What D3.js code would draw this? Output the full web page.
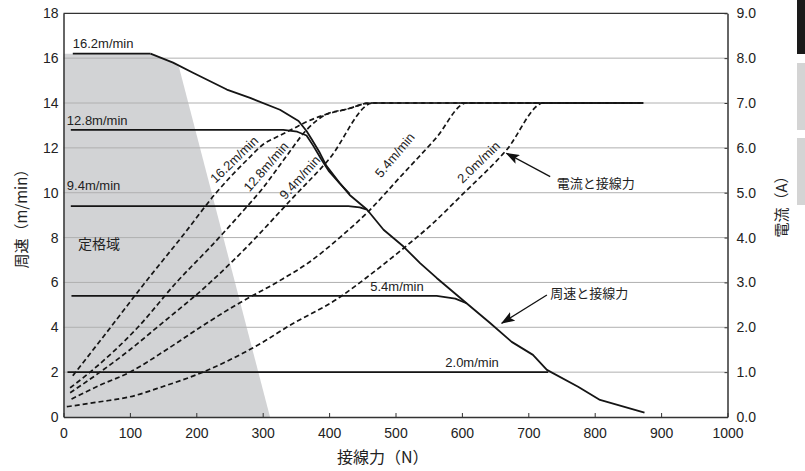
<!DOCTYPE html>
<html>
<head>
<meta charset="utf-8">
<script src="https://cdn.jsdelivr.net/npm/d3@7"></script>
<style>
  body { margin: 0; background: #fff; }
  svg { display: block; }
  text { font-family: 'Liberation Sans', Arial, 'Noto Sans CJK JP', sans-serif; fill: #222; }
  .jp { font-family: 'Noto Sans CJK JP', sans-serif; }
</style>
</head>
<body>
<svg id="chart" width="805" height="471"></svg>
<script>
'use strict';

// axis ticks
const forceTicks = [0, 100, 200, 300, 400, 500, 600, 700, 800, 900, 1000];
const speedTicks = [0, 2, 4, 6, 8, 10, 12, 14, 16, 18];
const currentTicks = [0, 1, 2, 3, 4, 5, 6, 7, 8, 9];

// rated region (shaded), [force N, speed m/min]
const ratedRegion = [[0, 0], [0, 16.2], [131, 16.2], [165, 15.8], [174, 15.6], [311, 0]];

// speed vs tangential force, [force N, speed m/min]
const speedEnvelope = [[131, 16.2], [165, 15.8], [195, 15.35], [246, 14.6], [281, 14.23], [326, 13.7],
  [354, 13.2], [366, 12.75], [374, 12.37], [386, 11.78], [396, 11.2], [416, 10.43], [431, 9.9],
  [457, 9.25], [482, 8.35], [512, 7.6], [537, 6.86], [562, 6.2], [607, 5.07], [642, 4.2],
  [675, 3.35], [707, 2.77], [728, 2.1], [775, 1.35], [808, 0.76], [875, 0.2]];
const speed162 = [[14, 16.2], [131, 16.2]];
const speed128 = [[11, 12.8], [331, 12.8], [352, 12.72], [366, 12.55], [376, 12.1], [388, 11.5],
  [400, 10.95], [415, 10.45], [431, 9.95]];
const speed94 = [[11, 9.4], [429, 9.4], [446, 9.35], [457, 9.25]];
const speed54 = [[12, 5.4], [562, 5.4], [590, 5.28], [607, 5.07]];
const speed20 = [[6, 2.0], [730, 2.0]];

// current vs tangential force, [force N, current A]
const current162 = [[14, 0.92], [60, 1.79], [123, 3.0], [180, 4.05], [230, 5.0], [281, 5.8],
  [300, 6.07], [321, 6.24], [345, 6.42], [366, 6.58], [396, 6.75], [426, 6.86], [462, 7.0], [873, 7.0]];
const current128 = [[10, 0.65], [40, 1.0], [112, 2.0], [170, 3.0], [225, 3.85], [266, 4.52], [300, 5.1],
  [335, 5.8], [366, 6.4], [396, 6.75], [426, 6.86], [462, 7.0], [873, 7.0]];
const current94 = [[10, 0.54], [55, 1.0], [100, 1.5], [141, 2.0], [221, 3.0], [280, 3.85], [343, 4.85],
  [400, 5.75], [466, 7.0], [873, 7.0]];
const current54 = [[12, 0.4], [55, 0.71], [100, 1.0], [155, 1.5], [206, 2.0], [260, 2.5], [321, 3.0],
  [370, 3.45], [416, 4.0], [457, 4.55], [507, 5.35], [560, 6.2], [607, 7.0], [873, 7.0]];
const current20 = [[5, 0.23], [55, 0.34], [100, 0.45], [150, 0.68], [210, 1.0], [270, 1.42], [306, 1.72],
  [336, 2.0], [414, 2.65], [460, 3.15], [507, 3.7], [555, 4.3], [600, 4.95], [667, 5.95], [723, 7.0], [873, 7.0]];

// speed labels: horizontal ones [force, speed], rotated ones beside the current curves [force, current]
const speedNames = ['16.2m/min', '12.8m/min', '9.4m/min', '5.4m/min', '2.0m/min'];
const speedLabelPos = [[14, 16.44], [5, 13.02], [5, 10.12], [462, 5.62], [575, 2.23]];
const currentLabelPos = [[257, 5.74], [305, 5.58], [356, 5.34], [499, 5.84], [625, 5.68]];
const currentLabelTilt = [-44, -49, -48, -50, -44];

// callouts, in speed units: text start, arrow tail, arrow tip
const callouts = [
  { text: '電流と接線力', at: [743, 10.44], from: [733, 10.72], to: [667, 11.76] },
  { text: '周速と接線力', at: [733, 5.53], from: [728, 5.44], to: [660, 4.18] },
];

const svg = d3.select('#chart');
const x = d3.scaleLinear().domain([0, 1000]).range([63.5, 727.5]);
const yS = d3.scaleLinear().domain([0, 18]).range([417, 13.3]);
const yA = d3.scaleLinear().domain([0, 9]).range([417, 13.3]);

const lineS = d3.line().x(d => x(d[0])).y(d => yS(d[1]));
const lineA = d3.line().x(d => x(d[0])).y(d => yA(d[1])).curve(d3.curveMonotoneX);

// arrow head
svg.append('defs').append('marker')
  .attr('id', 'head')
  .attr('viewBox', '0 -5 14 10')
  .attr('refX', 13).attr('refY', 0)
  .attr('markerWidth', 14).attr('markerHeight', 10)
  .attr('markerUnits', 'userSpaceOnUse')
  .attr('orient', 'auto')
  .append('path')
  .attr('d', 'M0,-5 L14,0 L0,5 L3,0 Z')
  .attr('fill', '#111');

// shaded rated region
svg.append('path')
  .attr('d', lineS(ratedRegion) + 'Z')
  .attr('fill', '#d2d3d5');

// grid
svg.append('g')
  .selectAll('line')
  .data(speedTicks.filter(d => d > 0 && d < 18))
  .join('line')
  .attr('x1', x(0)).attr('x2', x(1000))
  .attr('y1', d => yS(d)).attr('y2', d => yS(d))
  .attr('stroke', '#b0b0b0')
  .attr('stroke-width', 1);

// current curves (dashed)
svg.append('g')
  .selectAll('path')
  .data([current162, current128, current94, current54, current20])
  .join('path')
  .attr('d', d => lineA(d))
  .attr('fill', 'none')
  .attr('stroke', '#151515')
  .attr('stroke-width', 1.7)
  .attr('stroke-dasharray', '5,3');

// speed curves (solid)
svg.append('g')
  .selectAll('path')
  .data([speedEnvelope, speed162, speed128, speed94, speed54, speed20])
  .join('path')
  .attr('d', d => lineS(d))
  .attr('fill', 'none')
  .attr('stroke', '#151515')
  .attr('stroke-width', 1.8)
  .attr('stroke-linejoin', 'round');

// axes
const axisFont = g => g.selectAll('text').attr('font-size', 14).style('fill', '#222');
const axisLine = g => g.select('.domain').attr('stroke', '#333').attr('stroke-width', 1.5);

svg.append('g')
  .attr('transform', `translate(0,${yS(0)})`)
  .call(d3.axisBottom(x).tickValues(forceTicks).tickFormat(d3.format('d'))
    .tickSizeInner(-4).tickSizeOuter(0).tickPadding(11))
  .call(axisFont).call(axisLine)
  .call(g => g.selectAll('.tick line').attr('stroke', '#333'));

svg.append('g')
  .attr('transform', `translate(${x(0)},0)`)
  .call(d3.axisLeft(yS).tickValues(speedTicks).tickSize(0).tickPadding(5))
  .call(axisFont).call(axisLine);

svg.append('g')
  .attr('transform', `translate(${x(1000)},0)`)
  .call(d3.axisRight(yA).tickValues(currentTicks).tickFormat(d3.format('.1f'))
    .tickSizeInner(-3).tickSizeOuter(0).tickPadding(9))
  .call(axisFont).call(axisLine)
  .call(g => g.selectAll('.tick line').attr('stroke', '#333'));

// top frame
svg.append('line')
  .attr('x1', x(0)).attr('x2', x(1000))
  .attr('y1', yS(18)).attr('y2', yS(18))
  .attr('stroke', '#333').attr('stroke-width', 1.2);

// axis titles
svg.append('text').attr('class', 'jp')
  .attr('transform', `translate(20,${(yS(0) + yS(18)) / 2}) rotate(-90)`)
  .attr('text-anchor', 'middle').attr('dominant-baseline', 'central')
  .attr('font-size', 15)
  .text('周速（m/min）');
svg.append('text').attr('class', 'jp')
  .attr('transform', `translate(780,203) rotate(-90)`)
  .attr('text-anchor', 'middle').attr('dominant-baseline', 'central')
  .attr('font-size', 15)
  .text('電流（A）');
svg.append('text').attr('class', 'jp')
  .attr('x', 337).attr('y', 463)
  .attr('font-size', 16)
  .text('接線力（N）');

// horizontal speed labels
svg.append('g')
  .selectAll('text')
  .data(speedNames)
  .join('text')
  .attr('x', (d, i) => x(speedLabelPos[i][0]))
  .attr('y', (d, i) => yS(speedLabelPos[i][1]))
  .attr('font-size', 13)
  .text(d => d);

// rotated labels beside current curves
svg.append('g')
  .selectAll('text')
  .data(speedNames)
  .join('text')
  .attr('transform', (d, i) => `translate(${x(currentLabelPos[i][0])},${yA(currentLabelPos[i][1])}) rotate(${currentLabelTilt[i]})`)
  .attr('text-anchor', 'middle').attr('dominant-baseline', 'central')
  .attr('font-size', 13)
  .text(d => d);

svg.append('text').attr('class', 'jp')
  .attr('x', x(22)).attr('y', yS(7.76))
  .attr('dominant-baseline', 'central')
  .attr('font-size', 14)
  .text('定格域');

// callouts
const co = svg.append('g').selectAll('g').data(callouts).join('g');
co.append('line')
  .attr('x1', d => x(d.from[0])).attr('y1', d => yS(d.from[1]))
  .attr('x2', d => x(d.to[0])).attr('y2', d => yS(d.to[1]))
  .attr('stroke', '#111').attr('stroke-width', 1.3)
  .attr('marker-end', 'url(#head)');
co.append('text').attr('class', 'jp')
  .attr('x', d => x(d.at[0])).attr('y', d => yS(d.at[1]))
  .attr('dominant-baseline', 'central')
  .attr('font-size', 13)
  .text(d => d.text);

// page tabs at the right edge
svg.append('g')
  .selectAll('rect')
  .data([[0, 54, '#1a1a1a'], [63, 67, '#d4d4d4'], [138, 67, '#d4d4d4']])
  .join('rect')
  .attr('x', 797).attr('width', 8)
  .attr('y', d => d[0]).attr('height', d => d[1])
  .attr('fill', d => d[2]);
</script>
</body>
</html>
